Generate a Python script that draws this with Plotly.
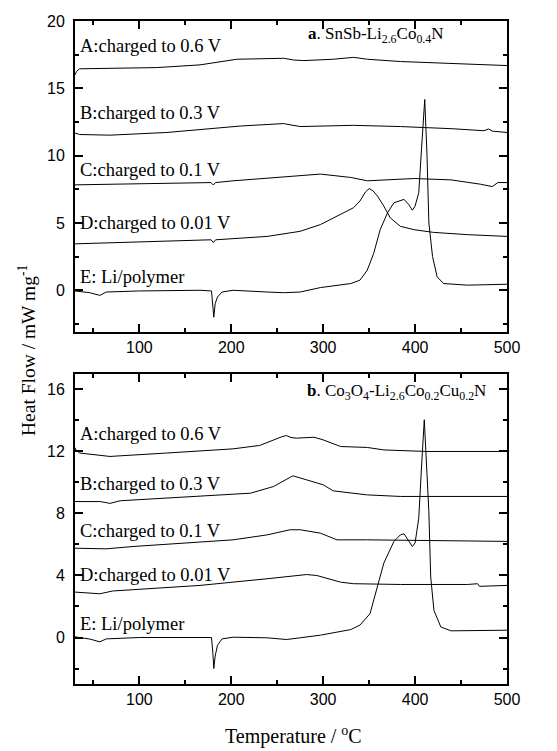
import plotly.graph_objects as go
from plotly.subplots import make_subplots

# ---------- Panel a: SnSb-Li2.6Co0.4N ----------
A_a_T = [30, 31.5, 35, 68, 119, 166, 206, 257, 268, 279, 311, 333, 348, 384, 439, 500]
A_a_Y = [16.0, 16.25, 16.45, 16.5, 16.54, 16.74, 17.16, 17.23, 17.1, 17.06, 17.16, 17.3, 17.16, 16.99, 16.86, 16.69]

B_a_T = [30, 35, 68, 130, 210, 250, 257, 265, 275, 333, 384, 440, 475, 480, 484, 500]
B_a_Y = [11.67, 11.57, 11.52, 11.72, 12.2, 12.32, 12.38, 12.28, 12.16, 12.25, 12.16, 12.0, 11.85, 11.98, 11.82, 11.72]

C_a_T = [30, 93, 178, 180.5, 183, 202, 257, 297, 330, 348, 399, 439, 471, 480, 484, 490, 500]
C_a_Y = [7.83, 7.88, 8.0, 7.82, 8.0, 8.13, 8.45, 8.63, 8.38, 8.13, 8.3, 8.2, 7.88, 7.72, 7.7, 8.0, 8.0]

D_a_T = [30, 93, 178, 180.5, 183, 239, 275, 297, 311, 333, 340, 346, 350, 354, 359, 366, 373, 384, 399, 420, 457, 500]
D_a_Y = [3.45, 3.58, 3.75, 3.55, 3.75, 4.0, 4.38, 4.88, 5.38, 6.13, 6.63, 7.3, 7.55, 7.4, 7.0, 6.25, 5.38, 4.75, 4.5, 4.3, 4.13, 4.0]

E_a_T = [30, 46, 57, 64, 100, 166, 178.5, 180, 181, 182.5, 185, 190, 202, 239, 257, 275, 297, 330, 340, 348,
         355, 362, 370, 377, 384, 388, 393, 397, 400, 404, 407, 410.5, 413, 415, 419, 424, 431, 457, 500]
E_a_Y = [-0.05, -0.18, -0.38, -0.13, -0.05, 0, -0.05, -1.0, -2.0, -1.0, -0.5, -0.13, 0, -0.13, -0.18, -0.13, 0.2, 0.5, 0.75, 1.5,
         2.75, 4.5, 5.75, 6.5, 6.63, 6.75, 6.38, 5.95, 6.25, 7.25, 10.5, 14.17, 10.0, 5.0, 2.5, 1.0, 0.5, 0.38, 0.45]

# ---------- Panel b: Co3O4-Li2.6Co0.2Cu0.2N ----------
A_b_T = [30, 31, 35, 68, 130, 202, 231, 246, 255, 260, 265, 271, 290, 300, 319, 348, 366, 413, 500]
A_b_Y = [12.25, 12.1, 11.9, 11.68, 11.9, 12.17, 12.39, 12.75, 12.95, 13.03, 12.9, 12.86, 12.92, 12.75, 12.32, 12.26, 12.1, 12.0, 12.0]

B_b_T = [30, 57, 64, 68, 79, 166, 221, 246, 260, 267, 282, 300, 311, 348, 384, 500]
B_b_Y = [8.77, 8.77, 8.7, 8.65, 8.82, 9.1, 9.31, 9.74, 10.17, 10.43, 10.17, 9.85, 9.46, 9.2, 9.1, 9.1]

C_b_T = [30, 64, 93, 202, 239, 264, 275, 297, 315, 348, 500]
C_b_Y = [5.76, 5.72, 5.87, 6.3, 6.62, 6.95, 6.95, 6.73, 6.3, 6.3, 6.2]

D_b_T = [30, 57, 71, 166, 239, 282, 293, 319, 333, 384, 457, 468, 470, 500]
D_b_Y = [2.93, 2.82, 3.0, 3.36, 3.79, 4.06, 4.0, 3.57, 3.47, 3.42, 3.42, 3.47, 3.3, 3.36]

E_b_T = [30, 46, 57, 64, 100, 178.5, 180, 181, 182.5, 185, 190, 202, 239, 260, 275, 297, 330, 340, 351, 359,
         366, 377, 384, 388, 393, 397, 400, 404, 407, 410, 413, 415, 417, 420.5, 428, 439, 500]
E_b_Y = [0.04, -0.1, -0.28, -0.09, 0, 0, -1.0, -2.0, -1.2, -0.5, -0.09, 0.02, -0.02, -0.13, -0.02, 0.15, 0.51, 0.8, 1.54, 3.25,
         4.8, 6.2, 6.62, 6.69, 6.2, 5.87, 6.1, 7.7, 11.0, 14.05, 10.5, 8.1, 3.9, 1.75, 0.68, 0.43, 0.47]

labels = ["A:charged to 0.6 V", "B:charged to 0.3 V", "C:charged to 0.1 V", "D:charged to 0.01 V", "E: Li/polymer"]
label_y_a = [18.15, 13.2, 8.95, 5.0, 1.0]
label_y_b = [13.12, 9.9, 6.9, 4.0, 0.9]
title_a = "<b>a</b>. SnSb-Li<sub>2.6</sub>Co<sub>0.4</sub>N"
title_b = "<b>b</b>. Co<sub>3</sub>O<sub>4</sub>-Li<sub>2.6</sub>Co<sub>0.2</sub>Cu<sub>0.2</sub>N"

fig = make_subplots(rows=2, cols=1, vertical_spacing=0.0633)

line = dict(color="black", width=1)
for T, Y in [(A_a_T, A_a_Y), (B_a_T, B_a_Y), (C_a_T, C_a_Y), (D_a_T, D_a_Y), (E_a_T, E_a_Y)]:
    fig.add_trace(go.Scatter(x=T, y=Y, mode="lines", line=line, showlegend=False), row=1, col=1)
for T, Y in [(A_b_T, A_b_Y), (B_b_T, B_b_Y), (C_b_T, C_b_Y), (D_b_T, D_b_Y), (E_b_T, E_b_Y)]:
    fig.add_trace(go.Scatter(x=T, y=Y, mode="lines", line=line, showlegend=False), row=2, col=1)

serif = "Liberation Serif, Times New Roman, serif"
sans = "Liberation Sans, Arial, sans-serif"

ax_common = dict(showline=True, linecolor="black", linewidth=2, mirror="allticks",
                 ticks="inside", ticklen=8, tickwidth=1.5, tickcolor="black",
                 showgrid=False, zeroline=False,
                 tickfont=dict(family=sans, size=16, color="black"))

fig.update_xaxes(range=[30, 500], tickvals=[100, 200, 300, 400, 500],
                 minor=dict(ticks="inside", ticklen=4, tickwidth=1.5, tickcolor="black", dtick=50, tick0=0),
                 **ax_common)
fig.update_yaxes(range=[-3.1, 20], tickvals=[0, 5, 10, 15, 20], ticklabelstandoff=5,
                 minor=dict(ticks="inside", ticklen=4, tickwidth=1.5, tickcolor="black", dtick=2.5, tick0=0),
                 row=1, col=1, **ax_common)
fig.update_yaxes(range=[-3.0, 17.0], tickvals=[0, 4, 8, 12, 16], ticklabelstandoff=5,
                 minor=dict(ticks="inside", ticklen=4, tickwidth=1.5, tickcolor="black", dtick=2, tick0=0),
                 row=2, col=1, **ax_common)
fig.update_layout(yaxis=dict(domain=[0.5309, 1.0]), yaxis2=dict(domain=[0.0, 0.4676]))

W, H = 557, 751
L, R, T_, B = 75, 50, 21, 67
pw, ph = W - L - R, H - T_ - B

ann = []
for txt, yv in zip(labels, label_y_a):
    ann.append(dict(x=33.5, y=yv, xref="x", yref="y", text=txt, showarrow=False,
                    xanchor="left", yanchor="middle", font=dict(family=serif, size=18.5, color="black")))
for txt, yv in zip(labels, label_y_b):
    ann.append(dict(x=33.5, y=yv, xref="x2", yref="y2", text=txt, showarrow=False,
                    xanchor="left", yanchor="middle", font=dict(family=serif, size=18.5, color="black")))
ann.append(dict(x=434, y=18.97, xref="x", yref="y", text=title_a, showarrow=False,
                xanchor="right", yanchor="middle", font=dict(family=serif, size=17, color="black")))
ann.append(dict(x=479, y=15.87, xref="x2", yref="y2", text=title_b, showarrow=False,
                xanchor="right", yanchor="middle", font=dict(family=serif, size=17, color="black")))
ann.append(dict(x=(293 - L) / pw, y=(H - B - 750) / ph, xref="paper", yref="paper",
                text="Temperature / <sup>o</sup>C", showarrow=False, xanchor="center", yanchor="bottom",
                font=dict(family=serif, size=20, color="black")))
ann.append(dict(x=(27 - L) / pw, y=(H - B - 351) / ph, xref="paper", yref="paper",
                text="Heat Flow / mW mg<sup>-1</sup>", showarrow=False, textangle=-90,
                xanchor="center", yanchor="middle", font=dict(family=serif, size=19.5, color="black")))

fig.update_layout(width=W, height=H, margin=dict(l=L, r=R, t=T_, b=B),
                  paper_bgcolor="white", plot_bgcolor="white", annotations=ann)

fig.write_html("out.html")
